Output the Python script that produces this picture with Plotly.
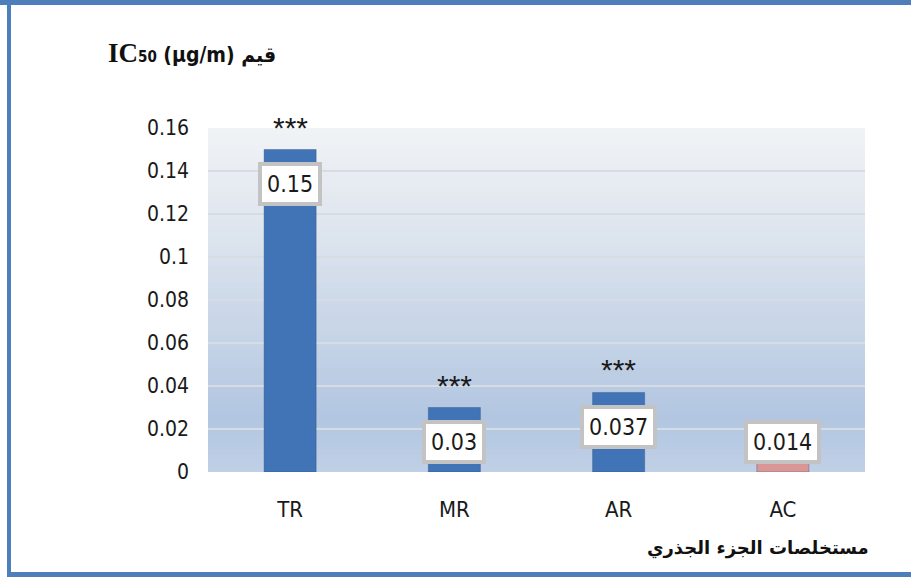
import plotly.graph_objects as go

categories = ["TR", "MR", "AR", "AC"]
values = [0.15, 0.03, 0.037, 0.014]
value_labels = ["0.15", "0.03", "0.037", "0.014"]
significance = ["***", "***", "***", ""]
bar_colors = ["#4074b6", "#4074b6", "#4074b6", "#d99694"]
y_ticks = [0, 0.02, 0.04, 0.06, 0.08, 0.1, 0.12, 0.14, 0.16]
y_tick_text = ["0", "0.02", "0.04", "0.06", "0.08", "0.1", "0.12", "0.14", "0.16"]

W, H = 911, 577
ML, MR_, MT, MB = 208, 46, 128, 105
PW, PH = W - ML - MR_, H - MT - MB

NARROW = "Liberation Sans Narrow, DejaVu Sans Condensed, Lato, sans-serif"

fig = go.Figure()
fig.add_trace(go.Bar(
    x=categories, y=values, width=0.317,
    marker=dict(color=bar_colors, line=dict(color="rgba(40,70,120,0.35)", width=1)),
    hoverinfo="skip",
))

# plot-area gradient background (piecewise, top to bottom)
stops = [(0.0, (241, 243, 246)), (0.3, (222, 229, 238)),
         (0.85, (178, 198, 225)), (1.0, (192, 208, 230))]
def grad(t):
    for (t0, c0), (t1, c1) in zip(stops[:-1], stops[1:]):
        if t <= t1:
            f = (t - t0) / (t1 - t0)
            return tuple(int(round(c0[k] + (c1[k] - c0[k]) * f)) for k in range(3))
    return stops[-1][1]
n = 60
shapes = []
for i in range(n):
    c = grad((i + 0.5) / n)
    shapes.append(dict(type="rect", xref="x domain", yref="y domain",
                       x0=0, x1=1, y0=max(0, 1 - (i + 1) / n - 0.006), y1=1 - i / n,
                       fillcolor="rgb(%d,%d,%d)" % c, line=dict(width=0), layer="below"))

# outer blue frame
def px_x(p):
    return (p - ML) / PW
def px_y(p):
    return 1 - (p - MT) / PH
frame_col = "#4f7fba"
shapes.append(dict(type="rect", xref="paper", yref="paper",
                   x0=px_x(-5), x1=px_x(W + 20), y0=px_y(5), y1=px_y(-10),
                   fillcolor=frame_col, line=dict(width=0), layer="above"))
shapes.append(dict(type="rect", xref="paper", yref="paper",
                   x0=px_x(7), x1=px_x(11), y0=px_y(H + 10), y1=px_y(0),
                   fillcolor=frame_col, line=dict(width=0), layer="above"))
shapes.append(dict(type="rect", xref="paper", yref="paper",
                   x0=px_x(7), x1=px_x(W + 20), y0=px_y(H + 10), y1=px_y(572),
                   fillcolor=frame_col, line=dict(width=0), layer="above"))

annotations = []
for cat, v, lab, sig in zip(categories, values, value_labels, significance):
    ly = max(v - 0.016, 0.014)
    annotations.append(dict(
        x=cat, y=ly, xref="x", yref="y", text=lab, showarrow=False,
        font=dict(family=NARROW, size=23, color="#1a1a1a"),
        bgcolor="white", bordercolor="#c3c3c3", borderwidth=4, borderpad=5,
        xanchor="center", yanchor="middle",
    ))
    if sig:
        annotations.append(dict(
            x=cat, y=v, xref="x", yref="y", text=sig, showarrow=False,
            font=dict(family="Liberation Sans, sans-serif", size=30, color="#1a1a1a"),
            xanchor="center", yanchor="bottom", yshift=4,
        ))

annotations.append(dict(
    xref="paper", yref="paper", x=px_x(106), y=px_y(53),
    xanchor="left", yanchor="middle", showarrow=False,
    text="<b><span style='font-family:Liberation Serif;font-size:27px'>IC</span>"
         "<span style='font-size:15px'>50</span> (µg/m) قيم</b>",
    font=dict(family=NARROW + ", DejaVu Sans", size=21, color="#111111"),
))
annotations.append(dict(
    xref="paper", yref="paper", x=px_x(871), y=px_y(548),
    xanchor="right", yanchor="middle", showarrow=False,
    text="<b>مستخلصات الجزء الجذري</b>",
    font=dict(family="DejaVu Sans, sans-serif", size=18, color="#111111"),
))

fig.update_layout(
    width=W, height=H,
    margin=dict(l=ML, r=MR_, t=MT, b=MB),
    paper_bgcolor="white", plot_bgcolor="rgba(0,0,0,0)",
    showlegend=False,
    shapes=shapes, annotations=annotations,
    xaxis=dict(tickfont=dict(family=NARROW, size=22, color="#1a1a1a"),
               showgrid=False, zeroline=False, showline=False,
               ticks="", ticklabelstandoff=22),
    yaxis=dict(range=[0, 0.16], tickvals=y_ticks, ticktext=y_tick_text,
               tickfont=dict(family=NARROW, size=21, color="#1a1a1a"),
               showgrid=True, gridcolor="#d6dce4", gridwidth=2,
               zeroline=False, showline=False, ticks="", ticklabelstandoff=18),
)

fig.write_html("out.html", config={"displayModeBar": False},
               post_script="document.body.style.margin='0';document.body.style.padding='0';")
